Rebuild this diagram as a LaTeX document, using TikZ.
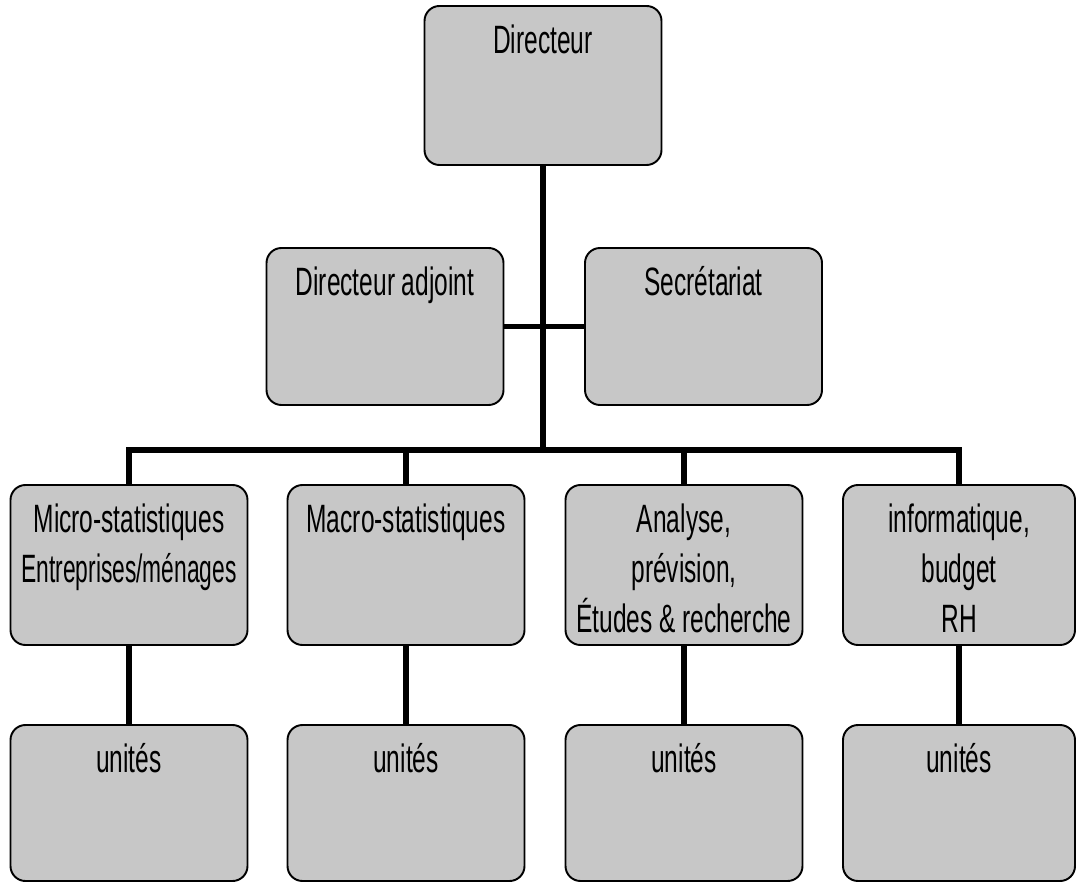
\documentclass[tikz,border=0pt]{standalone}
\usepackage{fontspec}
\setmainfont[FakeStretch=0.62]{Liberation Sans}
\usepackage{tikz}
\usetikzlibrary{calc, positioning, backgrounds}
\definecolor{boxgray}{gray}{0.78}
\tikzstyle{box}=[draw, shape=rectangle, rounded corners=0.3cm, fill=boxgray, line width=1.1pt, minimum width=4.74cm, minimum height=3.18cm, inner sep=0pt]
\tikzstyle{txt}=[anchor=north, yshift=-0.38cm, inner sep=0pt, align=center, font=\fontsize{22.5}{28.5}\selectfont]
\tikzstyle{conn}=[line width=3pt]

\begin{document}
\begin{tikzpicture}
\useasboundingbox (0,0) rectangle (21.54,-17.68);
\node[box, label={[txt]north:Directeur}] (dir) at (10.86,-1.71) {};
\node[box, minimum height=3.14cm, label={[txt]north:Directeur adjoint}] (adj) at (7.70,-6.53) {};
\node[box, minimum height=3.14cm, label={[txt]north:Secrétariat}] (sec) at (14.07,-6.53) {};
%
\node[box, minimum height=3.2cm, label={[txt]north:{Micro-statistiques\\\scalebox{0.93}[1]{Entreprises/ménages}}}] (micro) at (2.58,-11.3) {};
\node[box, minimum height=3.2cm, label={[txt]north:Macro-statistiques}] (macro) at (8.12,-11.3) {};
\node[box, minimum height=3.2cm, label={[txt]north:{Analyse,\\prévision,\\Études \& recherche}}] (ana) at (13.68,-11.3) {};
\node[box, minimum height=3.2cm, minimum width=4.64cm, label={[txt]north:{informatique,\\budget\\RH}}] (info) at (19.18,-11.3) {};
%
\node[box, minimum height=3.12cm, label={[txt]north:unités}] (u1) at (2.58,-16.06) {};
\node[box, minimum height=3.12cm, label={[txt]north:unités}] (u2) at (8.12,-16.06) {};
\node[box, minimum height=3.12cm, label={[txt]north:unités}] (u3) at (13.68,-16.06) {};
\node[box, minimum height=3.12cm, minimum width=4.64cm, label={[txt]north:unités}] (u4) at (19.18,-16.06) {};
%
\coordinate (bus) at (10.86,-9.0);
\draw[conn] (dir.south) -- (bus);
\draw[conn] (adj.east) -- (sec.west);
\draw[conn] (micro.north) |- (bus) -| (info.north);
\draw[conn] (macro.north) -- (macro.north |- bus);
\draw[conn] (ana.north) -- (ana.north |- bus);
%
\draw[conn] (micro.south) -- (u1.north);
\draw[conn] (macro.south) -- (u2.north);
\draw[conn] (ana.south) -- (u3.north);
\draw[conn] (info.south) -- (u4.north);
\end{tikzpicture}
\end{document}
